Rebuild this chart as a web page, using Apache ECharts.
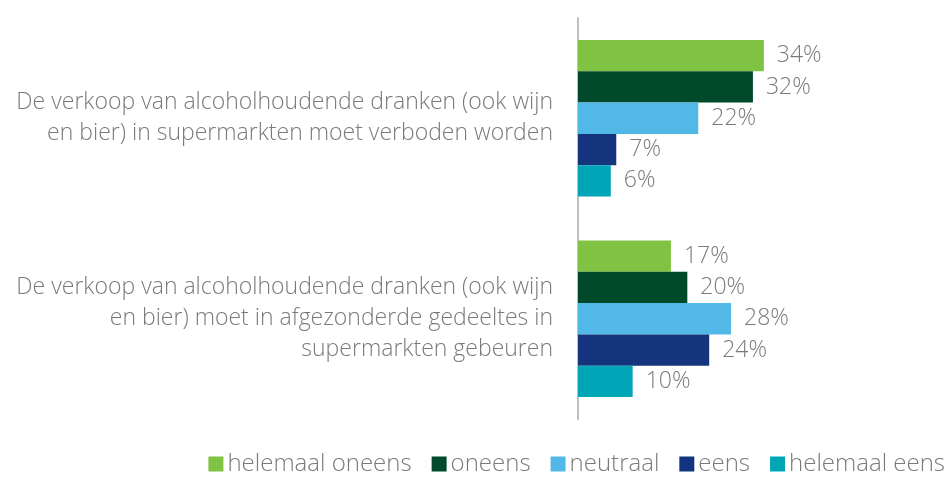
<!DOCTYPE html>
<html>
<head>
<meta charset="utf-8">
<script src="https://cdn.jsdelivr.net/npm/echarts@6/dist/echarts.min.js"></script>
<style>
  html, body { margin: 0; padding: 0; background: #ffffff; }
  #chart { width: 952px; height: 477px; }
</style>
</head>
<body>
<div id="chart"></div>
<script>
// Stellingen (categorieën)
const categories = [
  "De verkoop van alcoholhoudende dranken (ook wijn\nen bier) in supermarkten moet verboden worden",
  "De verkoop van alcoholhoudende dranken (ook wijn\nen bier) moet in afgezonderde gedeeltes in\nsupermarkten gebeuren"
];

// Antwoordcategorieën en percentages
const seriesNames = ["helemaal oneens", "oneens", "neutraal", "eens", "helemaal eens"];
const helemaalOneens = [34, 17];
const oneens = [32, 20];
const neutraal = [22, 28];
const eens = [7, 24];
const helemaalEens = [6, 10];
const seriesValues = [helemaalOneens, oneens, neutraal, eens, helemaalEens];

const colors = ["#80c242", "#004a2b", "#52b8e8", "#14357e", "#00a5b8"];
const textColor = "#7a7a7a";
const fontFamily = "'Open Sans', sans-serif";

const chart = echarts.init(document.getElementById("chart"));

const option = {
  backgroundColor: "#ffffff",
  color: colors,
  animation: false,
  grid: { left: 578, right: 46, top: 18, bottom: 58 },
  legend: {
    right: 2,
    bottom: -4,
    itemWidth: 15,
    itemHeight: 15,
    itemGap: 20,
    icon: "rect",
    textStyle: { color: textColor, fontSize: 24, fontFamily: fontFamily, fontWeight: 300, padding: [0, 0, 0, -1] },
    data: seriesNames
  },
  xAxis: {
    type: "value",
    min: 0,
    max: 60,
    show: false
  },
  yAxis: {
    type: "category",
    inverse: true,
    data: categories,
    axisLine: { show: true, lineStyle: { color: "#bfbfbf", width: 2 } },
    axisTick: { show: false },
    axisLabel: {
      margin: 25,
      color: textColor,
      fontSize: 23,
      lineHeight: 31,
      fontFamily: fontFamily,
      fontWeight: 300,
      align: "right"
    }
  },
  series: seriesNames.map((name, i) => ({
    name: name,
    type: "bar",
    barGap: "0%",
    barCategoryGap: "22%",
    data: seriesValues[i],
    label: {
      show: true,
      position: "right",
      distance: 13,
      formatter: "{c}%",
      color: textColor,
      fontSize: 23,
      fontFamily: fontFamily,
      fontWeight: 300
    }
  }))
};

chart.setOption(option);
window.addEventListener("resize", () => chart.resize());
</script>
</body>
</html>
